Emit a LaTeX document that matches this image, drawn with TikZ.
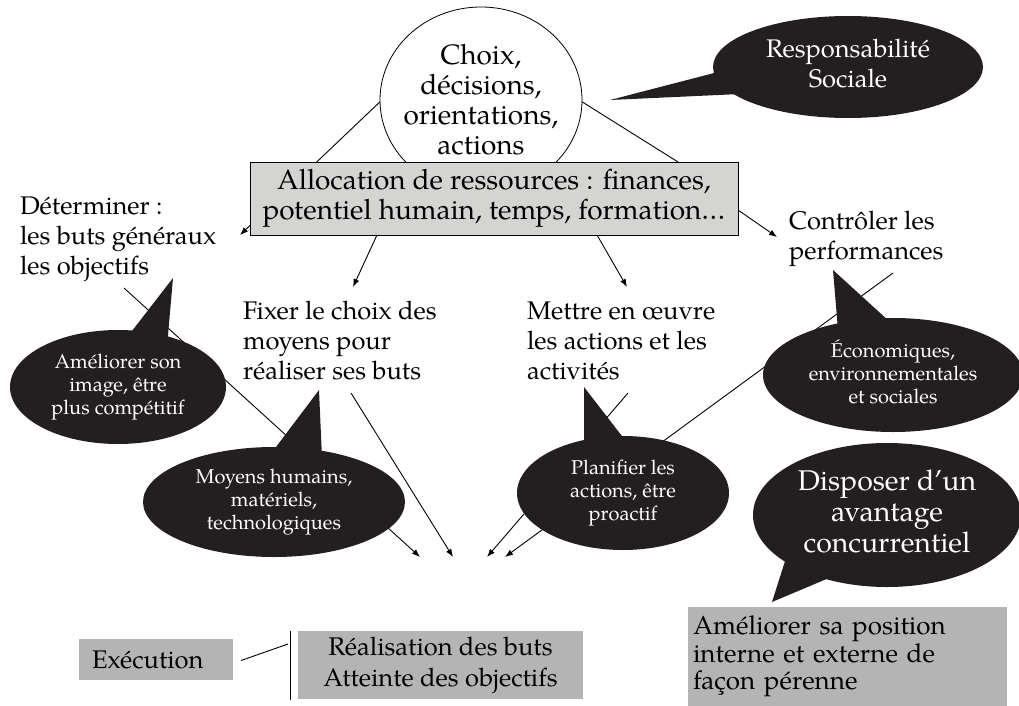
\documentclass[tikz,border=0pt]{standalone}
\usepackage{fontspec}
\setmainfont{TeX Gyre Pagella}
\usetikzlibrary{shapes.geometric,arrows.meta,calc}
\definecolor{bub}{RGB}{35,31,32}
\definecolor{allocgray}{RGB}{212,212,210}
\definecolor{boxgray}{RGB}{180,180,180}
\begin{document}
\begin{tikzpicture}[x=1pt,y=-1pt,
  every node/.style={inner sep=0pt, outer sep=0pt},
  main/.style={font=\fontsize{25.5}{30}\selectfont},
  large/.style={font=\fontsize{28}{30}\selectfont},
  small/.style={font=\fontsize{20}{23}\selectfont},
  big/.style={font=\fontsize{28.5}{31}\selectfont},
  lbl/.style={main, align=left, anchor=north west},
  bubble/.style={ellipse, fill=bub, text=white, align=center},
  tail/.style={fill=bub},
  conn/.style={line width=0.9pt},
  arr/.style={conn, -{Latex[length=8pt,width=6pt]}},
  graybox/.style={fill=boxgray},
]
\useasboundingbox (0,0) rectangle (1019,706);

% central circle
\node[ellipse, draw, fill=white, line width=0.8pt, minimum width=202, minimum height=186] (circ) at (481,100) {};
\node[large, align=center] (circt) at (481,103) {\strut Choix,\\décisions,\\orientations,\\actions\strut};

% text labels
\node[lbl] (det) at (20,193) {\strut Déterminer :\\les buts généraux\\les objectifs};
\node[lbl] (ctl) at (789,208) {\strut Contrôler les\\performances};
\node[lbl] (fix) at (243,298) {\strut Fixer le choix des\\moyens pour\\réaliser ses buts};
\node[lbl] (met) at (527,298) {\strut Mettre en œuvre\\les actions et les\\activités};

% lines from circle (behind allocation box)
\coordinate (detTip) at (240,235);
\coordinate (ctlTip) at (777,237);
\draw[arr] (circ.181) -- (detTip);

% allocation box
\node[large, draw, fill=allocgray, line width=0.8pt, minimum width=488, minimum height=73, align=center] (alloc) at (494,198.5)
  {\strut Allocation de ressources : finances,\\potentiel humain, temps, formation…\strut};

\draw[conn] (circ.-1) -- ($(alloc.north west)+(428,0)$);
\draw[arr] ($(alloc.east)+(0,11.5)$) -- (ctlTip);

\coordinate (fixTip) at (353,287);
\coordinate (metTip) at (627,287);
\draw[arr] ($(alloc.south west)+(127,0)$) -- (fixTip);
\draw[arr] ($(alloc.south west)+(347,0)$) -- (metTip);

% long converging lines
\coordinate (d1) at (124,288); \coordinate (t1) at (420,557);
\coordinate (f1) at (351,393); \coordinate (t2) at (453,557);
\coordinate (m1) at (628,393); \coordinate (t3) at (487,557);
\coordinate (c1) at (893,273); \coordinate (t4) at (505,557);
\draw[arr] (d1) -- (t1);
\draw[arr] (f1) -- (t2);
\draw[arr] (m1) -- (t3);
\draw[arr] (c1) -- (t4);

% bubbles
\fill[tail] (610,100) -- (718,72) -- (740,94) -- cycle;
\node[bubble, main, minimum width=270, minimum height=102] (resp) at (848,67) {\strut Responsabilité\\Sociale\strut};

\fill[tail] (173,278) -- (125,340) -- (166,358) -- cycle;
\node[bubble, small, minimum width=216, minimum height=114] (amel) at (118,387) {\strut Améliorer son\\image, être\\plus compétitif\strut};

\fill[tail] (319,390) -- (270,455) -- (322,458) -- cycle;
\node[bubble, small, minimum width=262, minimum height=110] (moy) at (274,502) {\strut Moyens humains,\\matériels,\\technologiques\strut};

\fill[tail] (584,387) -- (584,447) -- (625,440) -- cycle;
\node[bubble, small, minimum width=212, minimum height=114] (plan) at (623,493) {\strut Planifier les\\actions, être\\proactif\strut};

\fill[tail] (833,270) -- (838,330) -- (890,322) -- cycle;
\node[bubble, small, minimum width=260, minimum height=114] (eco) at (893,375) {\strut Économiques,\\environnementales\\et sociales\strut};

\fill[tail] (772,602) -- (786,558) -- (836,575) -- cycle;
\node[bubble, big, minimum width=268, minimum height=144] (disp) at (887,515) {\strut Disposer d’un\\avantage\\concurrentiel\strut};

% bottom boxes
\node[graybox, main, anchor=north west, minimum height=41, text width=128, inner xsep=13, align=left] (exec) at (79,639) {Exécution};
\node[graybox, font=\fontsize{25.5}{31}\selectfont, minimum width=285, minimum height=68, align=center] (real) at (440.5,665) {\strut Réalisation des buts\\Atteinte des objectifs\strut};
\coordinate (v1) at (290,631); \coordinate (v2) at (290,700); \coordinate (vx) at (288,644);
\draw[conn] (v1) -- (v2);
\draw[conn] ($(exec.east)+(8,1)$) -- (vx);

\node[graybox, font=\fontsize{26}{27.5}\selectfont, anchor=north west, minimum height=99, text width=309, inner xsep=5, align=left] (pos) at (688,607)
  {\strut Améliorer sa position\\interne et externe de\\façon pérenne\strut};
\end{tikzpicture}
\end{document}
